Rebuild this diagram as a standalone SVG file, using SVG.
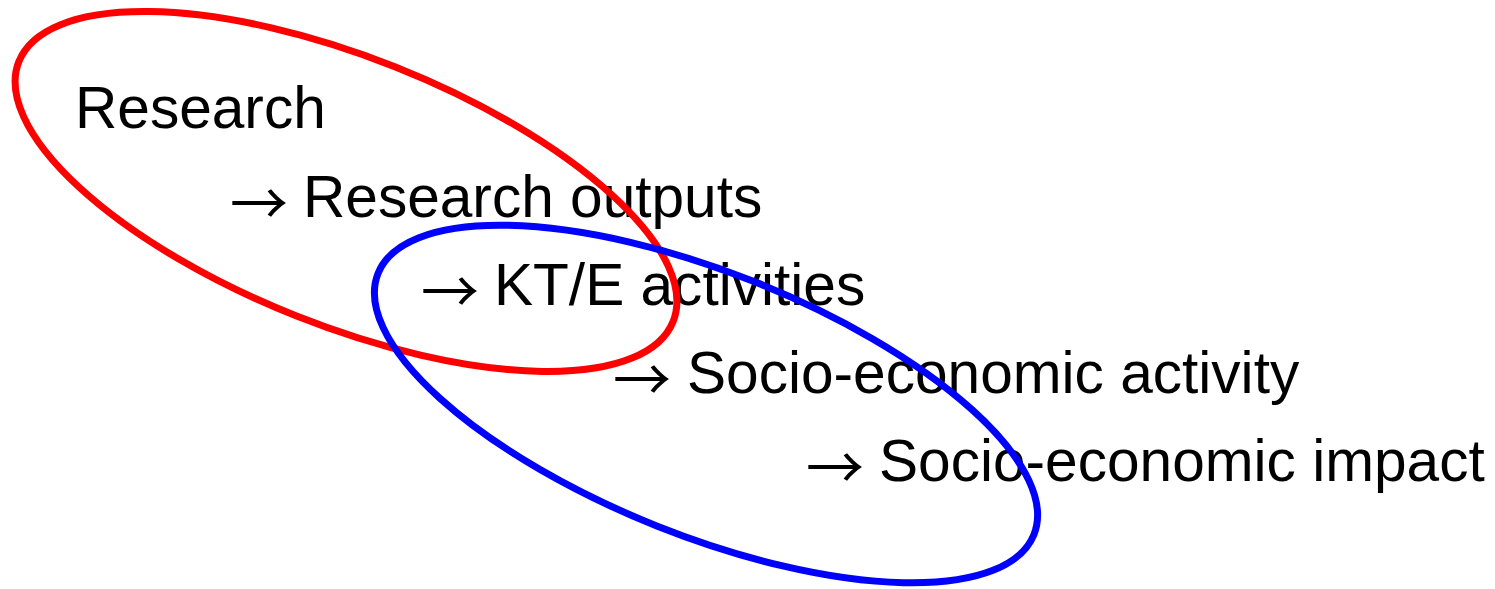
<svg xmlns="http://www.w3.org/2000/svg" width="1495" height="589" viewBox="0 0 1495 589">
<style>
.t{font-family:"Liberation Sans",Arial,sans-serif;font-size:58.6px;fill:#000}
.a{font-family:"Noto Sans CJK JP","Noto Sans CJK SC",sans-serif;font-size:58px;fill:#000}
.e{fill:none;stroke-width:7}
</style>
<rect width="1495" height="589" fill="#fff"/>
<g id="research"><text class="t" x="75" y="128">Research</text></g>
<g id="outputs"><text class="a" x="230" y="225">→</text><text class="t" x="303" y="217">Research outputs</text></g>
<g id="kte"><text class="a" x="421" y="313">→</text><text class="t" x="494" y="305">KT/E activities</text></g>
<g id="activity"><text class="a" x="613" y="401">→</text><text class="t" x="687" y="393">Socio-economic activity</text></g>
<g id="impact"><text class="a" x="806" y="489">→</text><text class="t" x="879" y="481">Socio-economic impact</text></g>
<g id="red-ellipse"><ellipse class="e" stroke="#ff0000" cx="346" cy="191.5" rx="352" ry="134" transform="rotate(21.65 346 191.5)"/></g>
<g id="blue-ellipse"><ellipse class="e" stroke="#0000ff" cx="706" cy="404" rx="353" ry="131.5" transform="rotate(21.7 706 404)"/></g>
<g id="connectors"></g>
</svg>
